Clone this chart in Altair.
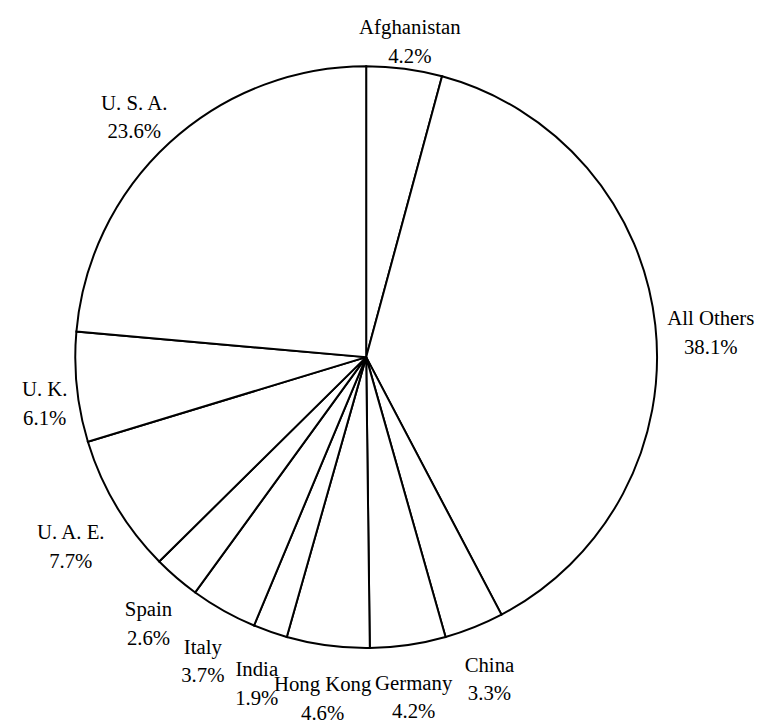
import altair as alt
import pandas as pd

countries = ["Afghanistan", "All Others", "China", "Germany", "Hong Kong", "India",
             "Italy", "Spain", "U. A. E.", "U. K.", "U. S. A."]
shares = [4.2, 38.1, 3.3, 4.2, 4.6, 1.9, 3.7, 2.6, 7.7, 6.1, 23.6]

df = pd.DataFrame({"country": countries, "share": shares, "idx": list(range(len(countries)))})
df["pct"] = [f"{s:.1f}%" for s in shares]
df["label"] = df["country"] + "\n" + df["pct"]

W, H = 724, 698

pie = alt.Chart(df).mark_arc(outerRadius=294, fill="white", stroke="black", strokeWidth=2).encode(
    theta=alt.Theta("share:Q", stack=True),
    order=alt.Order("idx:Q", sort="ascending"),
)

labels = (
    alt.Chart(df)
    .transform_joinaggregate(total="sum(share)")
    .transform_window(cum="sum(share)", sort=[alt.SortField("idx")], frame=[None, 0])
    .transform_calculate(
        mid="(datum.cum - datum.share/2)/datum.total*2*PI",
        w="max(length(datum.country), length(datum.pct))*9.5",
        r="300 + datum.w/2*abs(sin(datum.mid)) + 29*abs(cos(datum.mid))",
    )
    .mark_text(font="Liberation Serif", fontSize=21, lineBreak="\n", lineHeight=29,
               align="center", baseline="middle", color="black")
    .encode(
        text="label:N",
        theta=alt.Theta("mid:Q", scale=None),
        radius=alt.Radius("r:Q", scale=None),
    )
)

chart = (
    alt.layer(pie, labels)
    .properties(width=W, height=H, autosize=alt.AutoSizeParams(type="none"),
                padding={"left": 0, "top": 0, "right": 32, "bottom": 22})
    .configure_view(stroke=None)
)

chart.save("out.html", embed_options={"renderer": "svg", "actions": False})
